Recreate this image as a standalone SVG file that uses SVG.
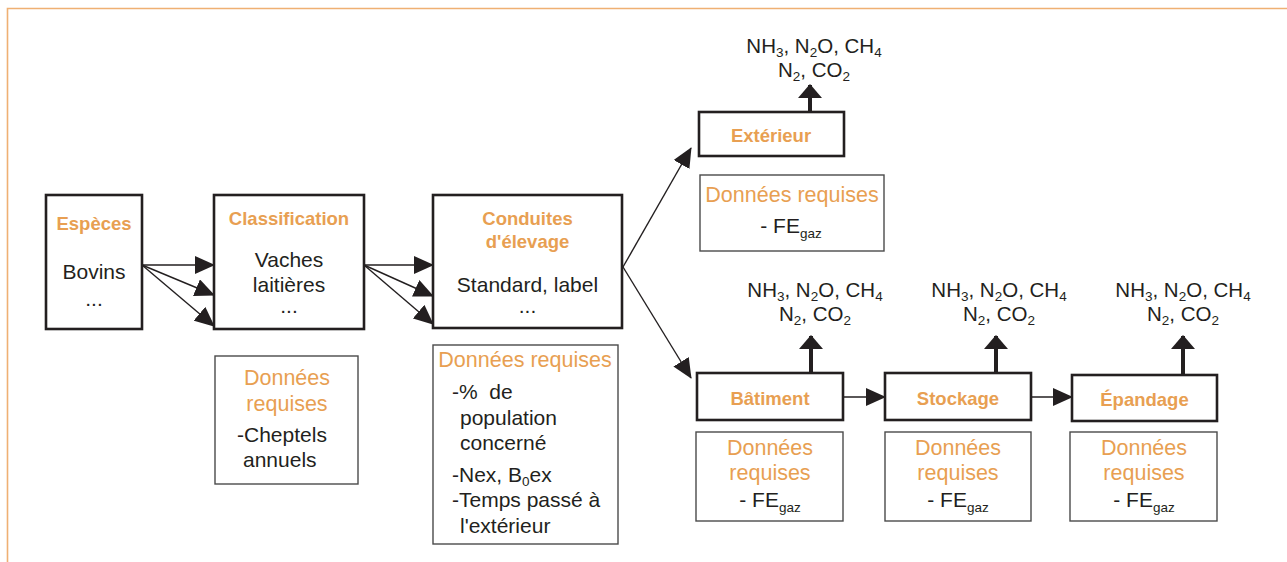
<svg xmlns="http://www.w3.org/2000/svg" width="1287" height="562" viewBox="0 0 1287 562">
<defs>
<style>
text{font-family:"Liberation Sans",Arial,sans-serif;fill:#231f20;font-size:21px}
.t{font-weight:bold;fill:#e89f52;font-size:18.5px;text-anchor:middle}
.o{fill:#e89f52;font-size:21.5px}
.c{text-anchor:middle}
.box{fill:#fff;stroke:#231f20;stroke-width:2.6}
.req{fill:#fff;stroke:#4a4a4a;stroke-width:1.4}
.ln{stroke:#231f20;stroke-width:1.4;fill:none;marker-end:url(#ah)}
.up{stroke:#231f20;stroke-width:4;fill:none;marker-end:url(#au)}
.g{font-size:20.5px;text-anchor:middle}
.s{font-size:13.5px}
</style>
<marker id="ah" markerUnits="userSpaceOnUse" markerWidth="20" markerHeight="18" refX="19" refY="9" orient="auto"><path d="M0,0 L20,9 L0,18 Z" fill="#231f20"/></marker>
<marker id="au" markerUnits="userSpaceOnUse" markerWidth="14" markerHeight="24" refX="13" refY="12" orient="auto"><path d="M0,0 L14,12 L0,24 Z" fill="#231f20"/></marker>
</defs>
<rect width="1287" height="562" fill="#fff"/>
<path d="M7.5,562 V8.5 H1287" fill="none" stroke="#efb073" stroke-width="1.6"/>

<g id="connectors">
<line class="ln" x1="142" y1="265" x2="214" y2="265"/>
<line class="ln" x1="142" y1="265" x2="214" y2="295"/>
<line class="ln" x1="142" y1="265" x2="214" y2="326"/>
<line class="ln" x1="364" y1="265" x2="433" y2="265"/>
<line class="ln" x1="364" y1="265" x2="433" y2="296"/>
<line class="ln" x1="364" y1="265" x2="433" y2="324"/>
<line class="ln" x1="623" y1="267" x2="691" y2="148"/>
<line class="ln" x1="623" y1="267" x2="691" y2="378"/>
<line class="ln" x1="843" y1="397" x2="885" y2="397"/>
<line class="ln" x1="1031" y1="397" x2="1072" y2="397"/>
<line class="up" x1="810" y1="112" x2="810" y2="85"/>
<line class="up" x1="811" y1="373" x2="811" y2="336"/>
<line class="up" x1="996" y1="373" x2="996" y2="336"/>
<line class="up" x1="1183" y1="375" x2="1183" y2="336"/>
</g>

<g id="especes">
<rect class="box" x="46" y="195" width="96" height="134"/>
<text class="t" x="94" y="230">Espèces</text>
<text class="c" x="94" y="279">Bovins</text>
<text class="c" x="94" y="306">...</text>
</g>

<g id="classification">
<rect class="box" x="214" y="195" width="150" height="134"/>
<text class="t" x="289" y="225">Classification</text>
<text class="c" x="289" y="267">Vaches</text>
<text class="c" x="289" y="292">laitières</text>
<text class="c" x="289" y="313">...</text>
</g>

<g id="conduites">
<rect class="box" x="433" y="195" width="189" height="133"/>
<text class="t" x="527.5" y="225">Conduites</text>
<text class="t" x="527.5" y="248">d'élevage</text>
<text class="c" x="527.5" y="292">Standard, label</text>
<text class="c" x="527.5" y="313">...</text>
</g>

<g id="req-classification">
<rect class="req" x="215" y="356" width="143" height="128"/>
<text class="o c" x="287" y="385">Données</text>
<text class="o c" x="287" y="411">requises</text>
<text x="237" y="442">-Cheptels</text>
<text x="243" y="467">annuels</text>
</g>

<g id="req-conduites">
<rect class="req" x="433" y="345" width="185" height="199"/>
<text class="o c" x="525" y="367">Données requises</text>
<text x="452" y="399" xml:space="preserve">-%  de</text>
<text x="460" y="425">population</text>
<text x="460" y="450">concerné</text>
<text x="452" y="482">-Nex, B<tspan class="s" dy="4">0</tspan><tspan dy="-4">ex</tspan></text>
<text x="452" y="507">-Temps passé à</text>
<text x="460" y="533">l'extérieur</text>
</g>

<g id="exterieur">
<rect class="box" x="699" y="112" width="145" height="44"/>
<text class="t" x="771" y="142">Extérieur</text>
<text class="g" x="814" y="53">NH<tspan class="s" dy="4">3</tspan><tspan dy="-4">, N</tspan><tspan class="s" dy="4">2</tspan><tspan dy="-4">O, CH</tspan><tspan class="s" dy="4">4</tspan></text>
<text class="g" x="814" y="77">N<tspan class="s" dy="4">2</tspan><tspan dy="-4">, CO</tspan><tspan class="s" dy="4">2</tspan></text>
</g>

<g id="req-exterieur">
<rect class="req" x="700" y="175" width="184" height="76"/>
<text class="o c" x="792" y="202">Données requises</text>
<text class="c" x="791" y="233">- FE<tspan class="s" dy="5">gaz</tspan></text>
</g>

<g id="batiment">
<rect class="box" x="697" y="373" width="146" height="47"/>
<text class="t" x="770" y="405">Bâtiment</text>
<text class="g" x="815" y="297">NH<tspan class="s" dy="4">3</tspan><tspan dy="-4">, N</tspan><tspan class="s" dy="4">2</tspan><tspan dy="-4">O, CH</tspan><tspan class="s" dy="4">4</tspan></text>
<text class="g" x="815" y="321">N<tspan class="s" dy="4">2</tspan><tspan dy="-4">, CO</tspan><tspan class="s" dy="4">2</tspan></text>
</g>

<g id="stockage">
<rect class="box" x="885" y="373" width="146" height="47"/>
<text class="t" x="958" y="405">Stockage</text>
<text class="g" x="999" y="297">NH<tspan class="s" dy="4">3</tspan><tspan dy="-4">, N</tspan><tspan class="s" dy="4">2</tspan><tspan dy="-4">O, CH</tspan><tspan class="s" dy="4">4</tspan></text>
<text class="g" x="999" y="321">N<tspan class="s" dy="4">2</tspan><tspan dy="-4">, CO</tspan><tspan class="s" dy="4">2</tspan></text>
</g>

<g id="epandage">
<rect class="box" x="1072" y="375" width="145" height="46"/>
<text class="t" x="1144.5" y="406">Épandage</text>
<text class="g" x="1183" y="297">NH<tspan class="s" dy="4">3</tspan><tspan dy="-4">, N</tspan><tspan class="s" dy="4">2</tspan><tspan dy="-4">O, CH</tspan><tspan class="s" dy="4">4</tspan></text>
<text class="g" x="1183" y="321">N<tspan class="s" dy="4">2</tspan><tspan dy="-4">, CO</tspan><tspan class="s" dy="4">2</tspan></text>
</g>

<g id="req-batiment">
<rect class="req" x="696" y="432" width="147" height="89"/>
<text class="o c" x="770" y="455">Données</text>
<text class="o c" x="770" y="480">requises</text>
<text class="c" x="770" y="507">- FE<tspan class="s" dy="5">gaz</tspan></text>
</g>

<g id="req-stockage">
<rect class="req" x="885" y="432" width="146" height="89"/>
<text class="o c" x="958" y="455">Données</text>
<text class="o c" x="958" y="480">requises</text>
<text class="c" x="958" y="507">- FE<tspan class="s" dy="5">gaz</tspan></text>
</g>

<g id="req-epandage">
<rect class="req" x="1070" y="432" width="147" height="89"/>
<text class="o c" x="1144" y="455">Données</text>
<text class="o c" x="1144" y="480">requises</text>
<text class="c" x="1144" y="507">- FE<tspan class="s" dy="5">gaz</tspan></text>
</g>
</svg>
